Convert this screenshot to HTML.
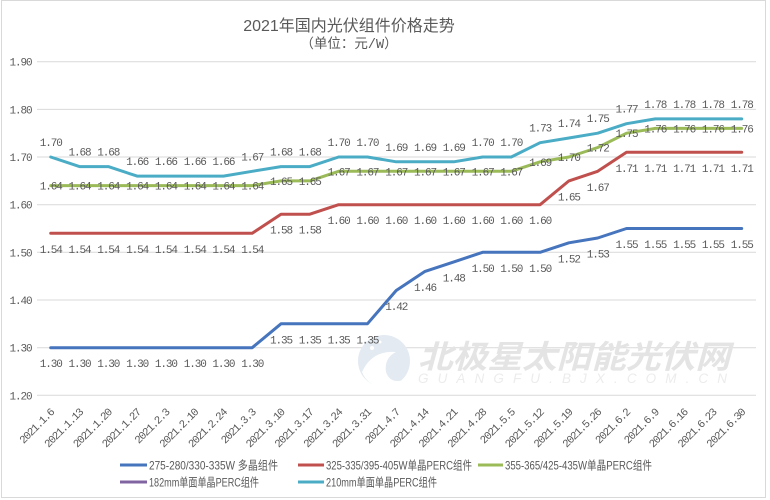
<!DOCTYPE html>
<html><head><meta charset="utf-8">
<style>
html,body{margin:0;padding:0;background:#fff;}
svg{display:block;}
.d{font-family:"Liberation Mono","Noto Sans CJK SC",monospace;font-size:11px;letter-spacing:-1.1px;fill:#595959;text-anchor:middle;}
.ax{font-family:"Liberation Mono",monospace;font-size:11px;letter-spacing:-1.1px;fill:#595959;text-anchor:end;}
.xl{font-family:"Liberation Mono",monospace;font-size:11px;letter-spacing:-1.1px;fill:#595959;text-anchor:end;}
.lg{font-family:"Liberation Sans","Noto Sans CJK SC",sans-serif;font-size:12px;fill:#595959;}
</style></head>
<body>
<svg width="770" height="500" viewBox="0 0 770 500" xmlns="http://www.w3.org/2000/svg">
<rect x="0" y="0" width="770" height="500" fill="#fff"/>
<rect x="1.5" y="0.5" width="764" height="497" fill="none" stroke="#d9d9d9" stroke-width="1"/>

<text x="349" y="31" text-anchor="middle" style="font-family:'Liberation Sans','Noto Sans CJK SC',sans-serif;font-size:16px;fill:#595959;">2021年国内光伏组件价格走势</text>
<text x="349" y="48" text-anchor="middle" style="font-family:'Liberation Mono','Noto Sans CJK SC',monospace;font-size:13.5px;fill:#595959;">（单位：元/W）</text>

<g stroke="#d9d9d9" stroke-width="1">
<line x1="37" y1="61.7" x2="756" y2="61.7"/>
<line x1="37" y1="109.4" x2="756" y2="109.4"/>
<line x1="37" y1="157.0" x2="756" y2="157.0"/>
<line x1="37" y1="204.7" x2="756" y2="204.7"/>
<line x1="37" y1="252.3" x2="756" y2="252.3"/>
<line x1="37" y1="300.0" x2="756" y2="300.0"/>
<line x1="37" y1="347.7" x2="756" y2="347.7"/>
<line x1="37" y1="395.3" x2="756" y2="395.3"/>
</g>

<g>
<text class="ax" x="31.5" y="65.7">1.90</text>
<text class="ax" x="31.5" y="113.4">1.80</text>
<text class="ax" x="31.5" y="161.0">1.70</text>
<text class="ax" x="31.5" y="208.7">1.60</text>
<text class="ax" x="31.5" y="256.3">1.50</text>
<text class="ax" x="31.5" y="304.0">1.40</text>
<text class="ax" x="31.5" y="351.7">1.30</text>
<text class="ax" x="31.5" y="399.3">1.20</text>
</g>

<!-- watermark -->
<g opacity="1">
<circle cx="384" cy="361" r="26" fill="#e3eaf1"/>
<path d="M362 372 Q372 350 396 352 Q384 358 386 372 Q390 384 404 380 Q392 392 376 386 Q366 382 362 372 Z" fill="#fff"/>
<circle cx="372" cy="348" r="2" fill="#fff"/>
<circle cx="380" cy="342" r="1.5" fill="#fff"/>
<text x="418" y="368" textLength="312" lengthAdjust="spacingAndGlyphs" style="font-family:'Noto Sans CJK SC',sans-serif;font-size:32px;font-weight:bold;font-style:italic;fill:#e4e4e4;">北极星太阳能光伏网</text>
<text x="418" y="383" textLength="309" lengthAdjust="spacing" style="font-family:'Liberation Sans',sans-serif;font-size:13.5px;font-style:italic;fill:#ececec;">GUANGFU.BJX.COM.CN</text>
</g>

<g fill="none" stroke-width="3" stroke-linejoin="round" stroke-linecap="round">
<polyline stroke="#4674BD" points="50.7,347.7 79.5,347.7 108.3,347.7 137.1,347.7 165.9,347.7 194.7,347.7 223.4,347.7 252.2,347.7 281.0,323.8 309.8,323.8 338.6,323.8 367.4,323.8 396.2,290.5 425.0,271.4 453.8,261.9 482.6,252.3 511.3,252.3 540.1,252.3 568.9,242.8 597.7,238.0 626.5,228.5 655.3,228.5 684.1,228.5 712.9,228.5 741.7,228.5"/>
<polyline stroke="#C0504D" points="50.7,233.3 79.5,233.3 108.3,233.3 137.1,233.3 165.9,233.3 194.7,233.3 223.4,233.3 252.2,233.3 281.0,214.2 309.8,214.2 338.6,204.7 367.4,204.7 396.2,204.7 425.0,204.7 453.8,204.7 482.6,204.7 511.3,204.7 540.1,204.7 568.9,180.9 597.7,171.3 626.5,152.3 655.3,152.3 684.1,152.3 712.9,152.3 741.7,152.3"/>
<polyline stroke="#9BBB59" points="50.7,185.6 79.5,185.6 108.3,185.6 137.1,185.6 165.9,185.6 194.7,185.6 223.4,185.6 252.2,185.6 281.0,180.9 309.8,180.9 338.6,171.3 367.4,171.3 396.2,171.3 425.0,171.3 453.8,171.3 482.6,171.3 511.3,171.3 540.1,161.8 568.9,157.0 597.7,147.5 626.5,133.2 655.3,128.4 684.1,128.4 712.9,128.4 741.7,128.4"/>
<polyline stroke="#4BACC6" points="50.7,157.0 79.5,166.6 108.3,166.6 137.1,176.1 165.9,176.1 194.7,176.1 223.4,176.1 252.2,171.3 281.0,166.6 309.8,166.6 338.6,157.0 367.4,157.0 396.2,161.8 425.0,161.8 453.8,161.8 482.6,157.0 511.3,157.0 540.1,142.7 568.9,138.0 597.7,133.2 626.5,123.7 655.3,118.9 684.1,118.9 712.9,118.9 741.7,118.9"/>
</g>

<!-- series 1 labels -->
<g class="d">
<text x="50.7" y="367.2">1.30</text><text x="79.5" y="367.2">1.30</text><text x="108.3" y="367.2">1.30</text><text x="137.1" y="367.2">1.30</text><text x="165.9" y="367.2">1.30</text><text x="194.7" y="367.2">1.30</text><text x="223.4" y="367.2">1.30</text><text x="252.2" y="367.2">1.30</text>
<text x="281.0" y="343.3">1.35</text><text x="309.8" y="343.3">1.35</text><text x="338.6" y="343.3">1.35</text><text x="367.4" y="343.3">1.35</text>
<text x="396.2" y="310.0">1.42</text><text x="425.0" y="290.9">1.46</text><text x="453.8" y="281.4">1.48</text>
<text x="482.6" y="271.8">1.50</text><text x="511.3" y="271.8">1.50</text><text x="540.1" y="271.8">1.50</text>
<text x="568.9" y="262.3">1.52</text><text x="597.7" y="257.5">1.53</text>
<text x="626.5" y="248.0">1.55</text><text x="655.3" y="248.0">1.55</text><text x="684.1" y="248.0">1.55</text><text x="712.9" y="248.0">1.55</text><text x="741.7" y="248.0">1.55</text>
</g>
<!-- series 2 labels -->
<g class="d">
<text x="50.7" y="252.8">1.54</text><text x="79.5" y="252.8">1.54</text><text x="108.3" y="252.8">1.54</text><text x="137.1" y="252.8">1.54</text><text x="165.9" y="252.8">1.54</text><text x="194.7" y="252.8">1.54</text><text x="223.4" y="252.8">1.54</text><text x="252.2" y="252.8">1.54</text>
<text x="281.0" y="233.7">1.58</text><text x="309.8" y="233.7">1.58</text>
<text x="338.6" y="224.2">1.60</text><text x="367.4" y="224.2">1.60</text><text x="396.2" y="224.2">1.60</text><text x="425.0" y="224.2">1.60</text><text x="453.8" y="224.2">1.60</text><text x="482.6" y="224.2">1.60</text><text x="511.3" y="224.2">1.60</text><text x="540.1" y="224.2">1.60</text>
<text x="568.9" y="200.4">1.65</text><text x="597.7" y="190.8">1.67</text>
<text x="626.5" y="171.8">1.71</text><text x="655.3" y="171.8">1.71</text><text x="684.1" y="171.8">1.71</text><text x="712.9" y="171.8">1.71</text><text x="741.7" y="171.8">1.71</text>
</g>
<!-- series 3 labels -->
<g class="d">
<text x="50.7" y="189.6">1.64</text><text x="79.5" y="189.6">1.64</text><text x="108.3" y="189.6">1.64</text><text x="137.1" y="189.6">1.64</text><text x="165.9" y="189.6">1.64</text><text x="194.7" y="189.6">1.64</text><text x="223.4" y="189.6">1.64</text><text x="252.2" y="189.6">1.64</text>
<text x="281.0" y="184.9">1.65</text><text x="309.8" y="184.9">1.65</text>
<text x="338.6" y="175.3">1.67</text><text x="367.4" y="175.3">1.67</text><text x="396.2" y="175.3">1.67</text><text x="425.0" y="175.3">1.67</text><text x="453.8" y="175.3">1.67</text><text x="482.6" y="175.3">1.67</text><text x="511.3" y="175.3">1.67</text>
<text x="540.1" y="165.8">1.69</text><text x="568.9" y="161.0">1.70</text><text x="597.7" y="151.5">1.72</text><text x="626.5" y="137.2">1.75</text>
<text x="655.3" y="132.4">1.76</text><text x="684.1" y="132.4">1.76</text><text x="712.9" y="132.4">1.76</text><text x="741.7" y="132.4">1.76</text>
</g>
<!-- series 5 labels -->
<g class="d">
<text x="50.7" y="146.0">1.70</text>
<text x="79.5" y="155.6">1.68</text><text x="108.3" y="155.6">1.68</text>
<text x="137.1" y="165.1">1.66</text><text x="165.9" y="165.1">1.66</text><text x="194.7" y="165.1">1.66</text><text x="223.4" y="165.1">1.66</text>
<text x="252.2" y="160.3">1.67</text>
<text x="281.0" y="155.6">1.68</text><text x="309.8" y="155.6">1.68</text>
<text x="338.6" y="146.0">1.70</text><text x="367.4" y="146.0">1.70</text>
<text x="396.2" y="150.8">1.69</text><text x="425.0" y="150.8">1.69</text><text x="453.8" y="150.8">1.69</text>
<text x="482.6" y="146.0">1.70</text><text x="511.3" y="146.0">1.70</text>
<text x="540.1" y="131.7">1.73</text><text x="568.9" y="127.0">1.74</text><text x="597.7" y="122.2">1.75</text><text x="626.5" y="112.7">1.77</text>
<text x="655.3" y="107.9">1.78</text><text x="684.1" y="107.9">1.78</text><text x="712.9" y="107.9">1.78</text><text x="741.7" y="107.9">1.78</text>
</g>

<!-- x axis labels -->
<g class="xl">
<text transform="translate(54.7,413) rotate(-45)">2021.1.6</text>
<text transform="translate(83.5,413) rotate(-45)">2021.1.13</text>
<text transform="translate(112.3,413) rotate(-45)">2021.1.20</text>
<text transform="translate(141.1,413) rotate(-45)">2021.1.27</text>
<text transform="translate(169.9,413) rotate(-45)">2021.2.3</text>
<text transform="translate(198.7,413) rotate(-45)">2021.2.10</text>
<text transform="translate(227.4,413) rotate(-45)">2021.2.24</text>
<text transform="translate(256.2,413) rotate(-45)">2021.3.3</text>
<text transform="translate(285.0,413) rotate(-45)">2021.3.10</text>
<text transform="translate(313.8,413) rotate(-45)">2021.3.17</text>
<text transform="translate(342.6,413) rotate(-45)">2021.3.24</text>
<text transform="translate(371.4,413) rotate(-45)">2021.3.31</text>
<text transform="translate(400.2,413) rotate(-45)">2021.4.7</text>
<text transform="translate(429.0,413) rotate(-45)">2021.4.14</text>
<text transform="translate(457.8,413) rotate(-45)">2021.4.21</text>
<text transform="translate(486.6,413) rotate(-45)">2021.4.28</text>
<text transform="translate(515.3,413) rotate(-45)">2021.5.5</text>
<text transform="translate(544.1,413) rotate(-45)">2021.5.12</text>
<text transform="translate(572.9,413) rotate(-45)">2021.5.19</text>
<text transform="translate(601.7,413) rotate(-45)">2021.5.26</text>
<text transform="translate(630.5,413) rotate(-45)">2021.6.2</text>
<text transform="translate(659.3,413) rotate(-45)">2021.6.9</text>
<text transform="translate(688.1,413) rotate(-45)">2021.6.16</text>
<text transform="translate(716.9,413) rotate(-45)">2021.6.23</text>
<text transform="translate(745.7,413) rotate(-45)">2021.6.30</text>
</g>

<!-- legend -->
<g stroke-width="3">
<line x1="120" y1="465" x2="147" y2="465" stroke="#4674BD"/>
<line x1="298" y1="465" x2="324" y2="465" stroke="#C0504D"/>
<line x1="478" y1="465" x2="503" y2="465" stroke="#9BBB59"/>
<line x1="120" y1="482" x2="147" y2="482" stroke="#8064A2"/>
<line x1="298" y1="482" x2="324" y2="482" stroke="#4BACC6"/>
</g>
<g class="lg">
<text x="149" y="469.5" textLength="129" lengthAdjust="spacingAndGlyphs">275-280/330-335W 多晶组件</text>
<text x="326" y="469.5" textLength="146" lengthAdjust="spacingAndGlyphs">325-335/395-405W单晶PERC组件</text>
<text x="505" y="469.5" textLength="147" lengthAdjust="spacingAndGlyphs">355-365/425-435W单晶PERC组件</text>
<text x="149" y="486.5" textLength="110" lengthAdjust="spacingAndGlyphs">182mm单面单晶PERC组件</text>
<text x="326" y="486.5" textLength="111" lengthAdjust="spacingAndGlyphs">210mm单面单晶PERC组件</text>
</g>
</svg>
</body></html>
